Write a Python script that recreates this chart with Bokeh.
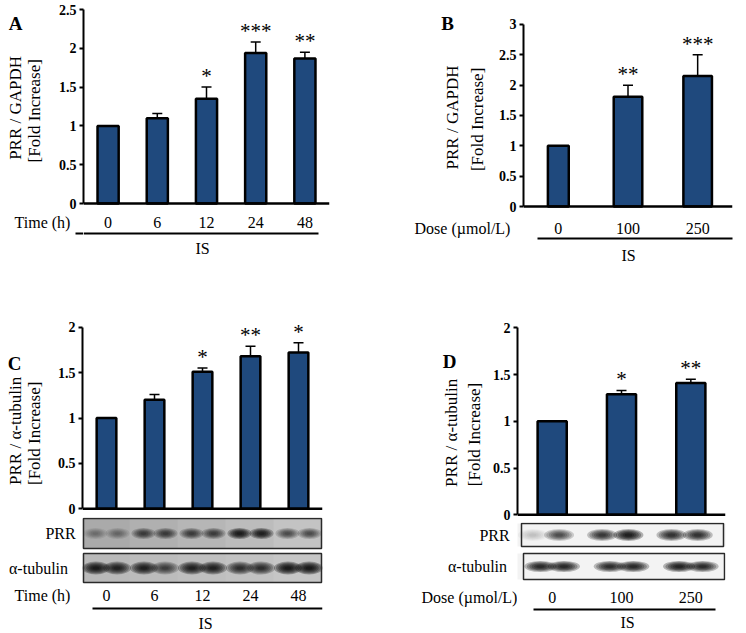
import numpy as np
from bokeh.plotting import figure
from bokeh.models import (FactorRange, Range1d, LinearAxis, FixedTicker, Span,
                          Whisker, TeeHead, ColumnDataSource, NumeralTickFormatter)
from bokeh.layouts import column, row
from bokeh.core.properties import value
from bokeh.transform import dodge
from bokeh.embed import file_html
from bokeh.resources import INLINE

# ---------------- data ----------------
time_labels = ["0", "6", "12", "24", "48"]
dose_labels = ["0", "100", "250"]

a_mean = [1.00, 1.10, 1.35, 1.94, 1.87]
a_sem = [0.0, 0.06, 0.15, 0.14, 0.08]
a_sig = ["", "", "*", "***", "**"]

b_mean = [1.00, 1.81, 2.15]
b_sem = [0.0, 0.19, 0.35]
b_sig = ["", "**", "***"]

c_mean = [1.00, 1.20, 1.51, 1.68, 1.72]
c_sem = [0.0, 0.06, 0.04, 0.11, 0.11]
c_sig = ["", "", "*", "**", "*"]

d_mean = [1.00, 1.29, 1.41]
d_sem = [0.0, 0.04, 0.04]
d_sig = ["", "*", "**"]

# western blot band intensities (two sub-lanes per lane), 0 = none, 1 = saturated
c_prr_left = [0.25, 0.6, 0.6, 0.95, 0.5]
c_prr_right = [0.3, 0.6, 0.6, 0.9, 0.5]
c_tub_left = [0.95, 0.9, 0.9, 0.75, 1.0]
c_tub_right = [0.85, 0.6, 0.9, 0.75, 1.0]
d_prr_left = [0.12, 0.75, 0.8]
d_prr_right = [0.6, 1.0, 0.8]
d_tub_left = [0.9, 0.85, 0.95]
d_tub_right = [0.9, 0.9, 0.85]

# ---------------- style ----------------
SERIF = "Liberation Serif"
BAR_COLOR = "#1F497D"
a_widths = [0.43] * 5
b_widths = [0.30, 0.41, 0.41]
c_widths = [0.41] * 5
d_widths = [0.42] * 3
c_prr_bg = ["#aaaaaa", "#b0b0b0", "#b6b6b6", "#bcbcbc", "#c3c3c3"]
c_tub_bg = ["#b9b9b9", "#bcbcbc", "#bfbfbf", "#c2c2c2", "#c6c6c6"]
d_prr_bg = ["#f3f3f3"] * 3
d_tub_bg = ["#f3f3f3"] * 3
AX_GAP = 34


def blank_fig(w, h, xr, yr, **kw):
    f = figure(width=w, height=h, x_range=xr, y_range=yr, output_backend="svg",
               toolbar_location=None, x_axis_location=None, y_axis_location=None, **kw)
    f.outline_line_color = None
    f.xgrid.visible = False
    f.ygrid.visible = False
    return f


def label_fig(x0, x1, y0, y1):
    return blank_fig(x1 - x0, y1 - y0, Range1d(x0, x1), Range1d(y1, y0), min_border=0)


def txt(f, x, y, text, size="16px", bold=False, angle=0.0):
    f.text(x=[x], y=[y], text=[text], text_font=value(SERIF), text_font_size=size,
           text_font_style="bold" if bold else "normal", text_align="center",
           text_baseline="middle", angle=angle, text_color="black")


class Panel:
    def __init__(self, cats, mean, sem, sig, widths, px0, py0, pw, ph,
                 fl, fr, ft, split, fb, yzero, ppu, ymax):
        self.cats, self.n = cats, len(cats)
        self.fl, self.fr = fl, fr
        xr = FactorRange(factors=cats)
        # ---- top: bars ----
        self.L1 = label_fig(px0, fl - AX_GAP, py0, split)
        m1x0 = fl - AX_GAP
        M1 = blank_fig(px0 + pw - m1x0, split - py0, xr,
                       Range1d((yzero - fb) / ppu, (yzero - ft) / ppu),
                       min_border_left=fl - m1x0, min_border_right=px0 + pw - fr,
                       min_border_top=ft - py0, min_border_bottom=split - fb)
        ticks = [float(t) for t in np.arange(0, ymax + 0.01, 0.5)]
        ax = LinearAxis(ticker=FixedTicker(ticks=ticks), bounds=(0, ymax),
                        formatter=NumeralTickFormatter(format="0.[0]"))
        ax.axis_line_width = 2
        ax.axis_line_color = "black"
        ax.major_tick_out = 4
        ax.major_tick_in = 0
        ax.major_tick_line_width = 2
        ax.minor_tick_out = 0
        ax.minor_tick_in = 0
        ax.major_label_standoff = 3
        ax.major_label_text_font = SERIF
        ax.major_label_text_font_style = "bold"
        ax.major_label_text_font_size = "14px"
        ax.major_label_text_color = "black"
        M1.add_layout(ax, "left")
        M1.add_layout(Span(location=0, dimension="width", line_color="black", line_width=2.5))
        src = ColumnDataSource(dict(x=cats, top=mean, w=widths))
        M1.vbar(x="x", top="top", width="w", bottom=0, source=src,
                fill_color=BAR_COLOR, line_color="black", line_width=2.5)
        idx = [i for i in range(self.n) if sem[i] > 0]
        wsrc = ColumnDataSource(dict(base=[cats[i] for i in idx],
                                     lower=[mean[i] for i in idx],
                                     upper=[mean[i] + sem[i] for i in idx]))
        M1.add_layout(Whisker(source=wsrc, base="base", lower="lower", upper="upper",
                              line_color="black", line_width=1.5, lower_head=None,
                              upper_head=TeeHead(size=10, line_width=1.5, line_color="black"),
                              level="glyph"))
        ssrc = ColumnDataSource(dict(x=cats, y=[m + s + 11.0 / ppu for m, s in zip(mean, sem)],
                                     t=sig))
        M1.text(x="x", y="y", text="t", source=ssrc, text_font=value(SERIF),
                text_font_size="21px", text_align="center", text_baseline="alphabetic",
                text_color="black")
        self.M1 = M1
        # ---- bottom: blots, categories ----
        self.L2 = label_fig(px0, fl, split, py0 + ph)
        self.M2 = blank_fig(px0 + pw - fl, py0 + ph - split, xr, Range1d(py0 + ph, split),
                            min_border_left=0, min_border_right=px0 + pw - fr,
                            min_border_top=0, min_border_bottom=0)

    def X(self, px):
        return (px - self.fl) / (self.fr - self.fl) * self.n

    def categories(self, py, name, name_px, line_py, line_l, line_r, is_px, is_py):
        self.M2.text(x=self.cats, y=[py] * self.n, text=self.cats, text_font=value(SERIF),
                     text_font_size="16px", text_align="center", text_baseline="middle",
                     text_color="black")
        txt(self.L2, name_px, py, name)
        self.M2.segment(x0=[self.X(max(line_l, self.fl))], x1=[self.X(line_r)],
                        y0=[line_py], y1=[line_py], line_color="black", line_width=2)
        if line_l < self.fl:
            self.L2.segment(x0=[line_l], x1=[self.fl], y0=[line_py], y1=[line_py],
                            line_color="black", line_width=2)
        txt(self.M2, self.X(is_px), is_py, "IS")

    def blot(self, name, name_px, left_int, right_int, bl, br, bt, bb, bgs, offs, bw, bh):
        f = self.M2
        cy = (bt + bb) / 2.0
        f.rect(x=self.cats, y=[cy] * self.n, width=1.04, height=bb - bt, fill_color=bgs,
               line_color=None)
        for off, ints in zip(offs, (left_int, right_int)):
            src = ColumnDataSource(dict(lane=self.cats, y=[cy] * self.n,
                                        a=[v * 0.28 for v in ints]))
            for s in [1.0, 0.85, 0.7, 0.55, 0.4, 0.25]:
                f.ellipse(x=dodge("lane", off, range=f.x_range), y="y", source=src,
                          width=bw * s, height=bh * s, width_units="screen",
                          height_units="screen", fill_color="black", fill_alpha="a",
                          line_color=None)
        f.quad(left=[self.X(bl)], right=[self.X(br)], top=[bt], bottom=[bb],
               fill_color=None, line_color="#2a2a2a", line_width=1.5)
        txt(self.L2, name_px, cy, name)

    def layout(self):
        return column(row(self.L1, self.M1), row(self.L2, self.M2))


# ---------------- panel A ----------------
A = Panel(time_labels, a_mean, a_sem, a_sig, a_widths,
          0, 0, 380, 280, 83, 329, 5, 212, 206, 203, 77.6, 2.5)
txt(A.L1, 15, 19, "A", size="19px", bold=True)
txt(A.L1, 15, 108, "PRR / GAPDH", size="17px", angle=np.pi / 2)
txt(A.L1, 34, 111, "[Fold Increase]", size="17px", angle=np.pi / 2)
A.categories(222, "Time (h)", 42, 233, 75, 318, 202, 248)

# ---------------- panel B ----------------
B = Panel(dose_labels, b_mean, b_sem, b_sig, b_widths,
          380, 0, 364, 280, 523, 732, 5, 215, 209, 206, 60.67, 3.0)
txt(B.L1, 447, 19, "B", size="19px", bold=True)
txt(B.L1, 452, 118, "PRR / GAPDH", size="17px", angle=np.pi / 2)
txt(B.L1, 477, 120, "[Fold Increase]", size="17px", angle=np.pi / 2)
B.categories(228, "Dose (\u00b5mol/L)", 462, 238, 537, 742, 628, 255)

# ---------------- panel C ----------------
C = Panel(time_labels, c_mean, c_sem, c_sig, c_widths,
          0, 280, 380, 351, 82, 322, 320, 517, 511, 508.3, 90.8, 2.0)
txt(C.L1, 14, 333, "C", size="19px", bold=True)
txt(C.L1, 15, 417, "PRR / \u03b1-tubulin", size="17px", angle=np.pi / 2)
txt(C.L1, 34, 420, "[Fold Increase]", size="17px", angle=np.pi / 2)
C.blot("PRR", 60, c_prr_left, c_prr_right, 83, 321, 518, 548, c_prr_bg, (-0.23, 0.23), 24, 11)
C.blot("\u03b1-tubulin", 38, c_tub_left, c_tub_right, 83, 321, 553, 582, c_tub_bg,
       (-0.22, 0.22), 28, 13)
C.categories(595, "Time (h)", 42, 608, 92, 322, 205, 623)

# ---------------- panel D ----------------
D = Panel(dose_labels, d_mean, d_sem, d_sig, d_widths,
          380, 280, 364, 351, 517, 725, 320, 522, 517, 514.3, 93.5, 2.0)
txt(D.L1, 449, 330, "D", size="19px", bold=True)
txt(D.L1, 451, 418, "PRR / \u03b1-tubulin", size="17px", angle=np.pi / 2)
txt(D.L1, 474, 420, "[Fold Increase]", size="17px", angle=np.pi / 2)
D.blot("PRR", 494, d_prr_left, d_prr_right, 521, 723, 523, 546, d_prr_bg, (-0.28, 0.10), 30, 12)
D.blot("\u03b1-tubulin", 477, d_tub_left, d_tub_right, 523, 724, 553, 579, d_tub_bg,
       (-0.17, 0.17), 32, 11)
D.categories(597, "Dose (\u00b5mol/L)", 469, 609, 533, 715, 627, 622)

layout = column(row(A.layout(), B.layout()), row(C.layout(), D.layout()))
open("out.html", "w").write(file_html(layout, INLINE))
